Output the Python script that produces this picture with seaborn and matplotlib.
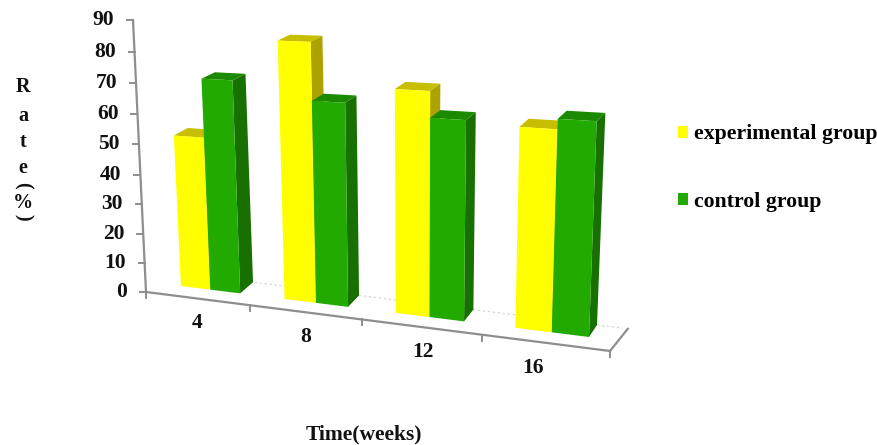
import numpy as np
import pandas as pd
import matplotlib
matplotlib.use('Agg')
import matplotlib.pyplot as plt
import matplotlib.transforms as mtransforms
from matplotlib.patches import Polygon
import seaborn as sns

# values
weeks = ['4', '8', '12', '16']
experimental = [51, 83, 70, 61]
control = [70, 65, 62, 64]
group_names = ['experimental group', 'control group']
y_ticks = [0, 10, 20, 30, 40, 50, 60, 70, 80, 90]
y_label_chars = ['R', 'a', 't', 'e', '(', '%', ')']
x_title = 'Time(weeks)'

YELLOW = '#FFFF00'
GREEN = '#22AA00'
YELLOW_TOP = '#C8BE00'
YELLOW_SIDE = '#ACA300'
GREEN_TOP = '#1B8A00'
GREEN_SIDE = '#187000'
AXIS = '#8E8E8E'
FONT = 'Liberation Serif'
BAR_WIDTH = 0.58

W, H = 877, 445


def homography(src, dst):
    rows = []
    rhs = []
    for (x, y), (u, v) in zip(src, dst):
        rows.append([x, y, 1, 0, 0, 0, -u * x, -u * y])
        rows.append([0, 0, 0, x, y, 1, -v * x, -v * y])
        rhs += [u, v]
    sol = np.linalg.solve(np.array(rows, float), np.array(rhs, float))
    return np.append(sol, 1).reshape(3, 3)


class Plane(mtransforms.Transform):
    # data coords -> picture pixels through a perspective matrix
    input_dims = 2
    output_dims = 2
    is_separable = False
    has_inverse = False

    def __init__(self, m):
        super().__init__()
        self.m = m

    def transform_non_affine(self, values):
        values = np.asarray(values, float)
        v = np.c_[values, np.ones(len(values))] @ self.m.T
        return v[:, :2] / v[:, 2:]


# corners of the tilted planes, in picture pixels
edge = BAR_WIDTH / 2
bar_src = [(-edge, 0), (3 + edge, 0), (-edge, 90), (3 + edge, 90)]
front_plane = Plane(homography(bar_src, [(181, 286), (589, 337), (168, 14), (600, 28)]))
depth_plane = Plane(homography(bar_src, [(195, 275), (597, 325), (182, 9), (609, 21)]))
axis_src = [(-0.5, 0), (3.5, 0), (-0.5, 90), (3.5, 90)]
axis_plane = Plane(homography(axis_src, [(146, 292), (610, 351), (133, 20), (623, 40)]))

df = pd.DataFrame({
    'week': weeks * 2,
    'rate': experimental + control,
    'group': [group_names[0]] * len(weeks) + [group_names[1]] * len(weeks),
})

fig = plt.figure(figsize=(W / 100, H / 100), dpi=100)
ax = fig.add_axes([0, 0, 1, 1])
sns.barplot(data=df, x='week', y='rate', hue='group', order=weeks, hue_order=group_names,
            palette=[YELLOW, GREEN], saturation=1, width=BAR_WIDTH, ax=ax)
ax.axis('off')

# picture pixels (y down) -> display
to_display = mtransforms.Affine2D().scale(1, -1).translate(0, H)

bars = []
for container, top_c, side_c in zip(ax.containers, [YELLOW_TOP, GREEN_TOP], [YELLOW_SIDE, GREEN_SIDE]):
    for patch in container:
        bars.append((patch, top_c, side_c))
bars.sort(key=lambda b: b[0].get_x())

for i, (patch, top_c, side_c) in enumerate(bars):
    x0 = patch.get_x()
    x1 = x0 + patch.get_width()
    h = patch.get_height()
    z = 3 + i
    patch.set_transform(front_plane + to_display)
    patch.set_clip_on(False)
    patch.set_linewidth(0)
    patch.set_zorder(z + 0.5)
    f = front_plane.transform_non_affine([(x0, h), (x1, h), (x1, 0)])
    b = depth_plane.transform_non_affine([(x0, h), (x1, h), (x1, 0)])
    top = Polygon([f[0], f[1], b[1], b[0]], closed=True, fc=top_c, lw=0, transform=to_display, clip_on=False, zorder=z)
    side = Polygon([f[1], f[2], b[2], b[1]], closed=True, fc=side_c, lw=0, transform=to_display, clip_on=False, zorder=z)
    ax.add_patch(top)
    ax.add_patch(side)


def px_line(pts, **kw):
    pts = np.array(pts)
    ax.plot(pts[:, 0], pts[:, 1], transform=to_display, clip_on=False, **kw)


# axes
left = axis_plane.transform_non_affine([(-0.5, 0), (-0.5, 90)])
px_line(left, color=AXIS, lw=1.6, zorder=2)
floor = axis_plane.transform_non_affine([(-0.5, 0), (3.5, 0)])
px_line(floor, color=AXIS, lw=1.6, zorder=2)

# floor back edge, dotted
back = depth_plane.transform_non_affine([(-edge, 0), (3 + edge, 0)])
d = (back[1] - back[0]) / np.linalg.norm(back[1] - back[0])
px_line([back[0], back[1] + d * 26], color='#D8D8D8', lw=0.9, ls=(0, (2, 2)), zorder=1)
px_line([floor[1], back[1] + d * 31], color=AXIS, lw=1.6, zorder=2)

for v in y_ticks:
    p = axis_plane.transform_non_affine([(-0.5, v)])[0]
    px_line([p, p + (-6, 0)], color=AXIS, lw=1.4, zorder=2)
    ax.text(p[0] - 19, p[1], str(v), transform=to_display, ha='right', va='center',
            family=FONT, weight='bold', fontsize=15.5, color='#111111')

for t in [-0.5, 0.5, 1.5, 2.5, 3.5]:
    p = axis_plane.transform_non_affine([(t, 0)])[0]
    px_line([p, p + (0, 6)], color=AXIS, lw=1.4, zorder=2)

label_pos = [(197, 323), (306, 337), (423, 352), (533, 368)]
for name, (x, y) in zip(weeks, label_pos):
    ax.text(x, y, name, transform=to_display, ha='center', va='center',
            family=FONT, weight='bold', fontsize=15.5, color='#111111')

ax.text(364, 434, x_title, transform=to_display, ha='center', va='center',
        family=FONT, weight='bold', fontsize=15.5, color='#111111')

char_y = [87, 116, 142, 168, 185, 203, 217]
for c, y in zip(y_label_chars, char_y):
    rot = -90 if c in '()' else 0
    ax.text(23, y, c, transform=to_display, ha='center', va='center', rotation=rot,
            family=FONT, weight='bold', fontsize=14.5, color='#111111')

sns.move_legend(ax, 'upper left', bbox_to_anchor=(678 / W, 1 - 124.5 / H), frameon=False, title=None,
                prop={'family': FONT, 'weight': 'bold', 'size': 15.7}, labelspacing=2.17,
                handlelength=0.46, handleheight=0.46, handletextpad=0.27, borderpad=0, borderaxespad=0)

fig.savefig('out.png', dpi=100)
